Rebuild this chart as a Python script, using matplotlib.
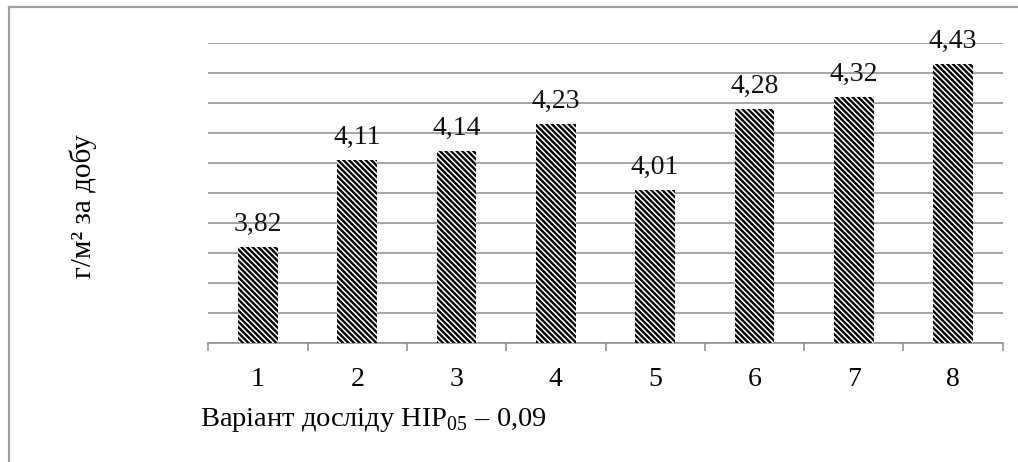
import matplotlib
matplotlib.use("Agg")
import matplotlib.pyplot as plt
from matplotlib.lines import Line2D

plt.rcParams['font.family'] = ['Liberation Serif', 'DejaVu Serif']
plt.rcParams['mathtext.fontset'] = 'custom'
plt.rcParams['mathtext.rm'] = 'Liberation Serif'
plt.rcParams['hatch.linewidth'] = 1.7

categories = ['1', '2', '3', '4', '5', '6', '7', '8']
values = [3.82, 4.11, 4.14, 4.23, 4.01, 4.28, 4.32, 4.43]
value_labels = ['3,82', '4,11', '4,14', '4,23', '4,01', '4,28', '4,32', '4,43']

fig = plt.figure(figsize=(10.18, 4.62), dpi=100)
ax = fig.add_axes([0.2046, 0.2576, 0.7804, 0.6487])

x = list(range(1, len(categories) + 1))
bars = ax.bar(x, values, width=0.4, color='white', edgecolor='black',
              linewidth=0, hatch='\\' * 6, zorder=3)

for xi, v, lab in zip(x, values, value_labels):
    ax.annotate(lab, (xi, v), xytext=(0, 11.5), textcoords='offset points',
                ha='center', va='baseline', fontsize=20, color='#111111',
                annotation_clip=False, zorder=5)

ax.set_xlim(0.5, len(categories) + 0.5)
ax.set_ylim(3.5, 4.5)
ax.set_yticks([3.5 + 0.1 * i for i in range(11)])
ax.yaxis.grid(True, color='#8c8c8c', linewidth=1.1, zorder=0)
ax.tick_params(axis='y', left=False, labelleft=False)

ax.set_xticks(x)
ax.set_xticklabels(categories, fontsize=20)
ax.set_xticks([i + 0.5 for i in range(len(categories) + 1)], minor=True)
ax.tick_params(axis='x', which='major', length=0, pad=17)
ax.tick_params(axis='x', which='minor', length=6, width=1.1, color='#8c8c8c',
               direction='out')

for side in ['top', 'right', 'left']:
    ax.spines[side].set_visible(False)
ax.spines['bottom'].set_color('#8c8c8c')
ax.spines['bottom'].set_linewidth(1.1)

fig.text(0.1965, 0.077, 'Варіант досліду НІР$_{05}$ – 0,09', fontsize=20.5,
         ha='left', va='baseline')
fig.text(0.082, 0.553, 'г/м² за добу', fontsize=21, rotation=90,
         ha='center', va='center')

# chart frame: top and left edges
fig.add_artist(Line2D([0.0088, 1.0], [0.985, 0.985], transform=fig.transFigure,
                      color='#a0a0a0', linewidth=1.6))
fig.add_artist(Line2D([0.0088, 0.0088], [0.0, 0.985], transform=fig.transFigure,
                      color='#a0a0a0', linewidth=1.6))

fig.savefig('out.png', dpi=100)
